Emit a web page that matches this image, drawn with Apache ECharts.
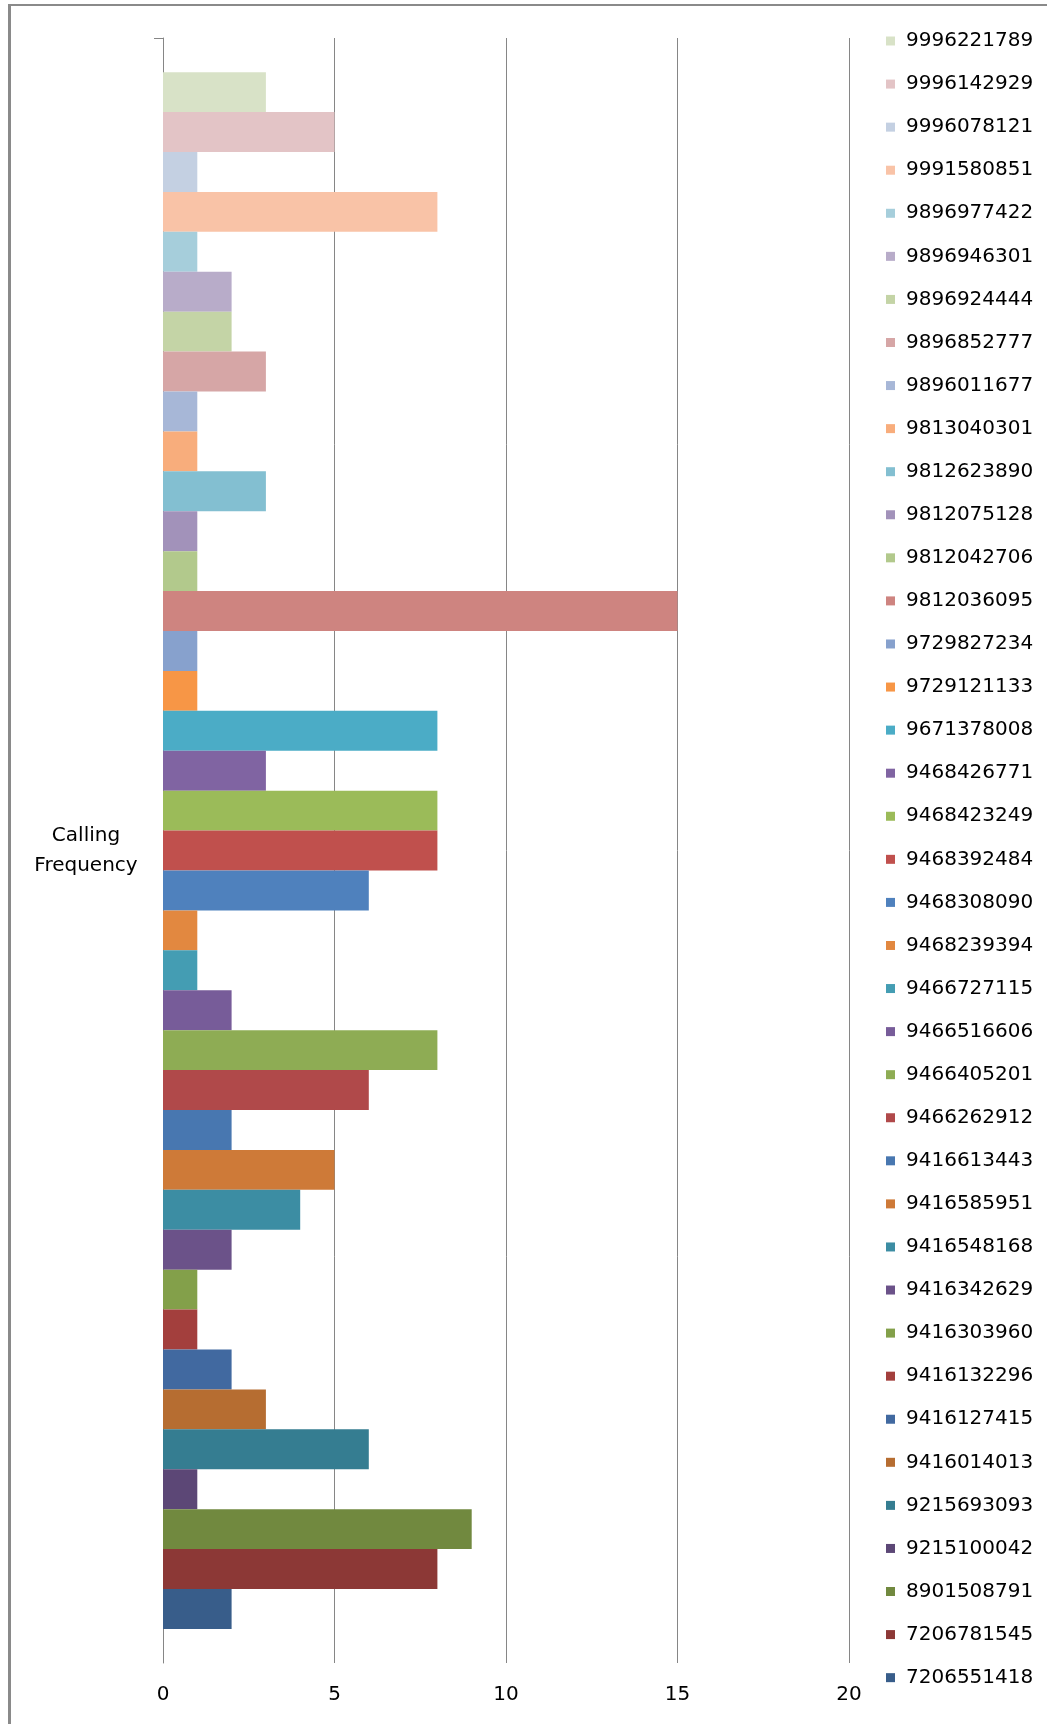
<!DOCTYPE html>
<html>
<head>
<meta charset="utf-8">
<title>Calling Frequency</title>
<script src="https://cdn.jsdelivr.net/npm/echarts@6/dist/echarts.min.js"></script>
<style>
  html, body { margin: 0; padding: 0; background: #fff; }
  #chart { width: 1047px; height: 1724px; }
</style>
</head>
<body>
<div id="chart"></div>
<script>
// Phone numbers, in series order (first series is the bottom bar of the cluster)
const numbers = [
  '7206551418', '7206781545', '8901508791', '9215100042', '9215693093', '9416014013',
  '9416127415', '9416132296', '9416303960', '9416342629', '9416548168', '9416585951',
  '9416613443', '9466262912', '9466405201', '9466516606', '9466727115', '9468239394',
  '9468308090', '9468392484', '9468423249', '9468426771', '9671378008', '9729121133',
  '9729827234', '9812036095', '9812042706', '9812075128', '9812623890', '9813040301',
  '9896011677', '9896852777', '9896924444', '9896946301', '9896977422', '9991580851',
  '9996078121', '9996142929', '9996221789'
];

// Number of calls per phone number
const calls = [
  2, 8, 9, 1, 6, 3,
  2, 1, 1, 2, 4, 5,
  2, 6, 8, 2, 1, 1,
  6, 8, 8, 3, 8, 1,
  1, 15, 1, 1, 3, 1,
  1, 3, 2, 2, 1, 8,
  1, 5, 3
];

// Fill colour per series
const colors = [
  '#385D8A', '#8C3836', '#71893F', '#5C4776', '#357D91', '#B66D31',
  '#4169A0', '#A33F3D', '#83A04A', '#6B5289', '#3C8DA3', '#CE7A38',
  '#4877B0', '#B0494A', '#8EAC54', '#775C99', '#449DB3', '#E28840',
  '#4F81BD', '#C0504D', '#9BBB59', '#8064A2', '#4BACC6', '#F79646',
  '#87A1CD', '#CE8480', '#B2C98C', '#A292BA', '#83BFD1', '#F8AD7C',
  '#A7B7D7', '#D6A6A6', '#C4D4A6', '#B8ACC9', '#A6CEDB', '#F9C3A7',
  '#C4D0E2', '#E3C4C6', '#D8E2C7'
];

const categories = ['Calling\nFrequency'];
const xTicks = { min: 0, max: 20, interval: 5 };

const FONT = 'DejaVu Sans';

// ECharts stacks a horizontal cluster top-down in series order,
// so the series are added last-to-first to keep the first one at the bottom.
const series = [];
for (let i = numbers.length - 1; i >= 0; i--) {
  series.push({
    name: numbers[i],
    type: 'bar',
    yAxisIndex: 0,
    data: [calls[i]],
    barGap: '0%',
    barCategoryGap: '4.2%',
    itemStyle: { color: colors[i] },
    emphasis: { disabled: true }
  });
}

const chart = echarts.init(document.getElementById('chart'), null, { renderer: 'canvas' });
chart.setOption({
  animation: false,
  backgroundColor: '#ffffff',
  textStyle: { fontFamily: FONT },
  grid: { left: 163, right: 198, top: 38, bottom: 61, containLabel: false },
  xAxis: {
    type: 'value',
    min: xTicks.min,
    max: xTicks.max,
    interval: xTicks.interval,
    axisLine: { show: false },
    axisTick: { show: false },
    axisLabel: { color: '#000', fontFamily: FONT, fontSize: 20, margin: 22 },
    splitLine: { show: true, lineStyle: { color: '#868686', width: 1 } }
  },
  yAxis: [
    {
      type: 'category',
      data: categories,
      axisLine: { show: true, lineStyle: { color: '#868686', width: 1 } },
      axisTick: { show: false },
      axisLabel: {
        color: '#000', fontFamily: FONT, fontSize: 20, lineHeight: 30,
        align: 'center', margin: 77
      },
      splitLine: { show: false }
    },
    {
      // helper axis carrying the single tick mark at the top of the category axis
      type: 'value',
      position: 'left',
      min: 0,
      max: 1,
      axisLine: { show: false },
      axisLabel: { show: false },
      splitLine: { show: false },
      axisTick: {
        show: true, length: 9, customValues: [1],
        lineStyle: { color: '#868686', width: 1 }
      }
    }
  ],
  legend: {
    orient: 'vertical',
    left: 886,
    top: 31,
    padding: 0,
    itemWidth: 9,
    itemHeight: 9,
    itemGap: 23.07,
    icon: 'rect',
    selectedMode: false,
    data: numbers.slice().reverse(),
    textStyle: { color: '#000', fontFamily: FONT, fontSize: 20, lineHeight: 20, padding: [0, 0, 0, 6] }
  },
  graphic: [
    { type: 'line', shape: { x1: 9.5, y1: 4, x2: 9.5, y2: 1724 }, style: { stroke: '#8a8a8a', lineWidth: 3 }, silent: true },
    { type: 'line', shape: { x1: 8, y1: 5, x2: 1047, y2: 5 }, style: { stroke: '#8a8a8a', lineWidth: 2 }, silent: true }
  ],
  series: series
});
</script>
</body>
</html>
